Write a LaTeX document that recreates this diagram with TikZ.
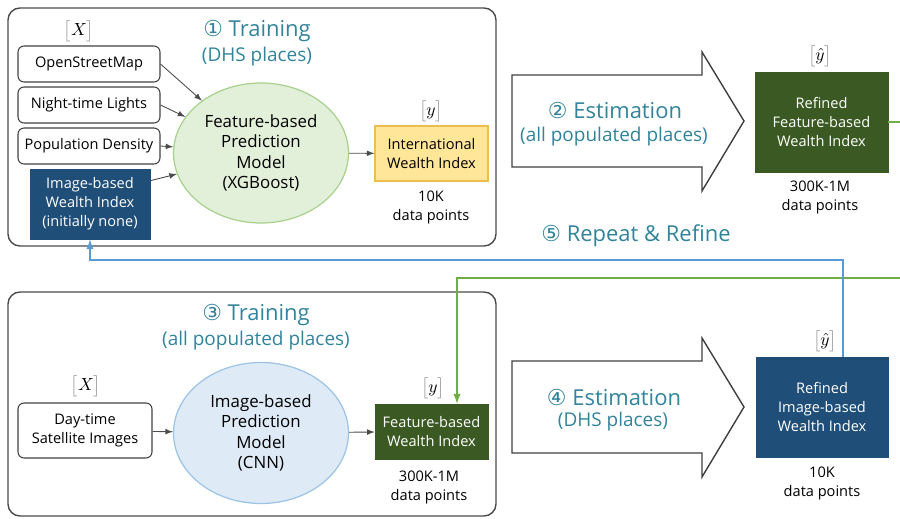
\documentclass[tikz,border=0pt]{standalone}
\usepackage{fontspec}
\setmainfont{Open Sans}
\newfontfamily\numfont{DejaVu Sans}
\usetikzlibrary{calc,shapes.geometric}

\definecolor{titleteal}{HTML}{31849B}
\definecolor{navybox}{HTML}{1F4E79}
\definecolor{darkgreen}{HTML}{3B5A23}
\definecolor{lineblue}{HTML}{5B9BD5}
\definecolor{linegreen}{HTML}{70AD47}
\definecolor{yellowfill}{HTML}{FFE699}
\definecolor{yellowline}{HTML}{EDBE4E}
\definecolor{greenfill}{HTML}{E2F0D9}
\definecolor{greenline}{HTML}{A9D18E}
\definecolor{bluefill}{HTML}{DEEBF7}
\definecolor{blueline}{HTML}{9DC3E6}

\newcommand\boxfont{\fontsize{8.3}{10.8}\selectfont}
\newcommand\modelfont{\fontsize{9.6}{11.6}\selectfont}
\newcommand\titlefont{\fontsize{12.5}{15}\selectfont}
\newcommand\subfont{\fontsize{10.8}{13}\selectfont}
\newcommand\varlabel[1]{$\color{black!45}\bigl[\color{black}#1\color{black!45}\bigr]$}

\begin{document}
\begin{tikzpicture}[x=0.02cm, y=-0.02cm,
    panel/.style={draw=black!70, line width=0.8pt, rounded corners=0.24cm},
    inbox/.style={draw=black!75, line width=0.6pt, rounded corners=0.12cm, minimum width=2.84cm, minimum height=0.72cm, font=\boxfont, align=center, inner sep=1pt},
    darkbox/.style={fill=#1, draw=#1, text=white, font=\boxfont, align=center, inner sep=1pt},
    model/.style={ellipse, draw=#1, line width=0.7pt, minimum width=3.5cm, minimum height=2.8cm, font=\modelfont, align=center, inner sep=0pt},
    title/.style={text=titleteal, font=\titlefont},
    subtitle/.style={text=titleteal, font=\subfont},
    note/.style={font=\boxfont, align=center},
    thin/.style={draw=black!70, line width=0.5pt, ->, >=latex},
    bigarrow/.style={draw=black!75, line width=0.8pt, fill=white}]
  \useasboundingbox (0,0) rectangle (900,518);

  % 枠
  \draw[panel] (8,8) rectangle (496,246);
  \draw[panel] (8,292) rectangle (496,516);

  % 上の段
  \node[title] (t1) at (257,31) {{\numfont ①} Training};
  \node[subtitle] (t1sub) at (257,57) {(DHS places)};
  \node (x1) at (79,31) {\varlabel{X}};
  \node[inbox] (osm) at (89,64) {OpenStreetMap};
  \node[inbox] (ntl) at (89,105) {Night-time Lights};
  \node[inbox] (pop) at (89,146) {Population Density};
  \node[darkbox=navybox, minimum width=2.4cm, minimum height=1.4cm] (imgidx) at (90,204) {Image-based\\Wealth Index\\(initially none)};
  \node[model=greenline, fill=greenfill] (fmodel) at (261,153) {Feature-based\\Prediction\\Model\\(XGBoost)};
  \node[draw=yellowline, fill=yellowfill, line width=0.7pt, minimum width=2.26cm, minimum height=1.1cm, font=\boxfont, align=center, inner sep=1pt] (intl) at (431.5,153.5) {International\\Wealth Index};
  \node (y1) at (431,111) {\varlabel{y}};
  \node[note] (n1) at (431,207) {10K\\data points};

  % 線を引く
  \draw[thin] (osm.east) -- (fmodel);
  \draw[thin] (ntl.east) -- (fmodel);
  \draw[thin] (pop.east) -- (fmodel);
  \draw[thin] (imgidx.north east) ++(0,12) -- (fmodel);
  \draw[thin] (fmodel) -- (intl);

  % 推定 (上)
  \draw[bigarrow] (512,75) -- (702,75) -- (702,52) -- (744,121) -- (702,191) -- (702,167) -- (512,167) -- cycle;
  \node[title] (e2) at (615,110) {{\numfont ②} Estimation};
  \node[subtitle] (e2sub) at (614,137) {(all populated places)};
  \node[darkbox=darkgreen, minimum width=2.66cm, minimum height=2.0cm] (rfeat) at (821.5,122) {Refined\\Feature-based\\Wealth Index};
  \node (y2) at (820,56) {\varlabel{\hat{y}}};
  \node[note] (n2) at (820,197) {300K-1M\\data points};

  \node[title] (r5) at (636,236) {{\numfont ⑤} Repeat \& Refine};

  % 下の段
  \node[title] (t3) at (256,315) {{\numfont ③} Training};
  \node[subtitle] (t3sub) at (256,341) {(all populated places)};
  \node (x3) at (86,386) {\varlabel{X}};
  \node[inbox, minimum width=2.68cm, minimum height=1.1cm] (day) at (85,430.5) {Day-time\\Satellite Images};
  \node[model=blueline, fill=bluefill, minimum height=2.82cm] (imodel) at (261,433) {Image-based\\Prediction\\Model\\(CNN)};
  \node[darkbox=darkgreen, minimum width=2.26cm, minimum height=1.1cm] (fidx) at (431.5,431.5) {Feature-based\\Wealth Index};
  \node (y3) at (433,388) {\varlabel{y}};
  \node[note] (n3) at (429,487) {300K-1M\\data points};

  \draw[thin] (day) -- (imodel);
  \draw[thin] (imodel) -- (fidx);

  % 推定 (下)
  \draw[bigarrow] (512,361) -- (702,361) -- (702,338) -- (744,407) -- (702,477) -- (702,453) -- (512,453) -- cycle;
  \node[title] (e4) at (614,397) {{\numfont ④} Estimation};
  \node[subtitle] (e4sub) at (613,422) {(DHS places)};
  \node[darkbox=navybox, minimum width=2.64cm, minimum height=2.0cm] (rimg) at (822,407) {Refined\\Image-based\\Wealth Index};
  \node (y4) at (825,341) {\varlabel{\hat{y}}};
  \node[note] (n4) at (822,483) {10K\\data points};

  % 繰り返し
  \coordinate (gout) at (900,122);
  \coordinate (gin) at (900,278);
  \coordinate (bturn) at (90,260);
  \draw[linegreen, line width=0.9pt] (rfeat.east) -- (gout);
  \draw[linegreen, line width=0.9pt, ->, >=latex] (gin) -| ([xshift=0.51cm]fidx.north);
  \draw[lineblue, line width=0.9pt, ->, >=latex] ([xshift=0.42cm]rimg.north) |- (bturn) -- (imgidx.south);
\end{tikzpicture}
\end{document}
